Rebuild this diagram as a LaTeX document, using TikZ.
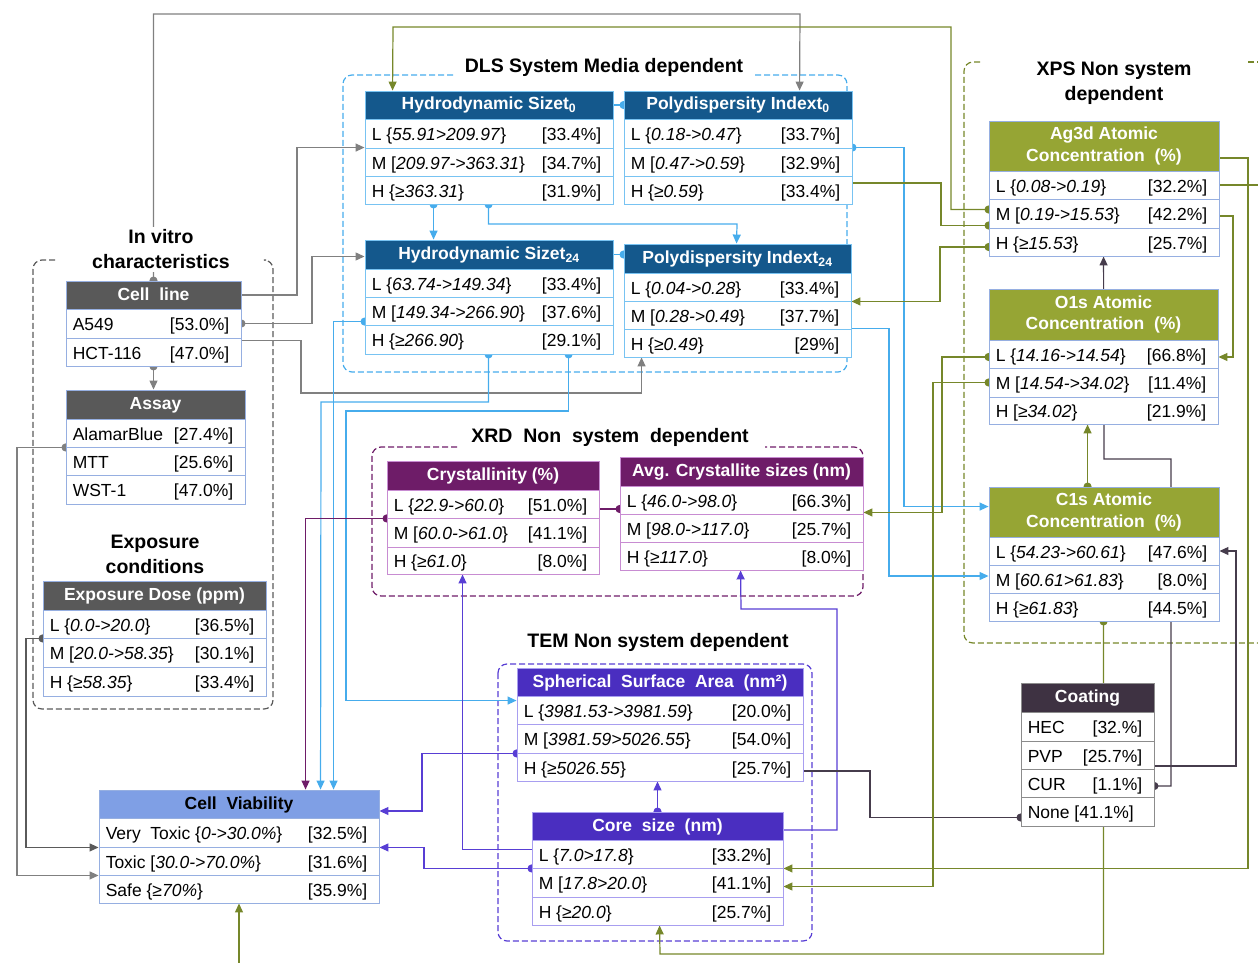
\documentclass[tikz,border=0pt]{standalone}
\usepackage{fontspec}
\setmainfont{Liberation Sans}
\usetikzlibrary{arrows.meta,fit}
\pgfdeclarelayer{bg}
\pgfdeclarelayer{conn}
\pgfsetlayers{bg,conn,main}
\definecolor{dlshead}{RGB}{20,88,140}
\definecolor{dlsline}{RGB}{70,172,236}
\definecolor{dlsborder}{RGB}{120,195,242}
\definecolor{grayhead}{RGB}{89,89,89}
\definecolor{grayline}{RGB}{128,128,128}
\definecolor{graydark}{RGB}{90,90,90}
\definecolor{rowborder}{RGB}{150,175,225}
\definecolor{olivehead}{RGB}{150,165,52}
\definecolor{oliveline}{RGB}{118,135,42}
\definecolor{xrdhead}{RGB}{110,28,104}
\definecolor{xrdborder}{RGB}{200,140,210}
\definecolor{temhead}{RGB}{74,46,192}
\definecolor{temline}{RGB}{88,62,212}
\definecolor{temborder}{RGB}{168,158,240}
\definecolor{coathead}{RGB}{62,50,66}
\definecolor{coatline}{RGB}{70,60,76}
\definecolor{coatborder}{RGB}{140,140,140}
\definecolor{cvhead}{RGB}{127,159,229}
\definecolor{frgray}{RGB}{90,90,90}
\tikzset{
  cellbox/.style={rectangle, inner sep=0pt, fill=white, line width=0.9pt},
  headbox/.style={rectangle, inner sep=0pt, line width=0.9pt},
  ctxt/.style={inner sep=0pt, font=\fontsize{17.5}{20}\selectfont},
  htxt/.style={inner sep=0pt, font=\bfseries\fontsize{17.5}{21.5}\selectfont, align=center},
  hone/.style={text height=13pt, text depth=3pt},
  ttl/.style={inner sep=3pt, font=\bfseries\fontsize{19.5}{25}\selectfont, align=center, fill=white},
  frame/.style={dash pattern=on 6pt off 3pt, line width=1.2pt, rounded corners=9pt},
  cline/.style={line width=1.2pt},
  gcon/.style={cline, draw=grayline},
  gdcon/.style={cline, draw=graydark},
  bcon/.style={cline, draw=dlsline},
  pcon/.style={cline, draw=xrdhead},
  tcon/.style={cline, draw=temline},
  ccon/.style={cline, draw=coatline},
  ocon/.style={cline, draw=oliveline},
  arr/.style={-{Triangle[length=9pt,width=8pt]}},
  dotarr/.style={{Circle[length=8pt]}-{Triangle[length=9pt,width=8pt]}, shorten <=-4pt},
  dotbeg/.style={{Circle[length=8pt]}-, shorten <=-4pt},
  dotend/.style={-{Circle[length=8pt]}, shorten >=-4pt},
}
\newcommand{\mkhead}[9]{%
  \node[headbox, fill=#7, draw=#8, fit={(#2,#3) (#4,#5)}] (#1) {};
  \node[htxt, #9] (#1-t) at (#1.center) {#6};
}
\newcommand{\mkrow}[8]{%
  \node[cellbox, draw=#8, fit={(#2,#3) (#4,#5)}] (#1) {};
  \node[ctxt, anchor=base west] (#1-a) at ([xshift=7pt,yshift=-7pt]#1.west) {#6};
  \node[ctxt, anchor=base east] (#1-b) at ([xshift=-12pt,yshift=-7pt]#1.east) {#7};
}
\begin{document}
\begin{tikzpicture}[x=1pt,y=-1pt]
\useasboundingbox (0,0) rectangle (1258,963);

% ---------- DLS ----------
\mkhead{hs0}{365}{91}{613}{119}{Hydrodynamic Sizet\textsubscript{0}}{dlshead}{dlsborder}{text=white,hone}
\mkrow{hs0l}{365}{119}{613}{148}{L \{\textit{55.91>209.97}\}}{[33.4\%]}{dlsborder}
\mkrow{hs0m}{365}{148}{613}{176}{M [\textit{209.97->363.31}\}}{[34.7\%]}{dlsborder}
\mkrow{hs0h}{365}{176}{613}{204}{H \{≥\textit{363.31}\}}{[31.9\%]}{dlsborder}

\mkhead{pdi0}{624}{91}{852}{119}{Polydispersity Indext\textsubscript{0}}{dlshead}{dlsborder}{text=white,hone}
\mkrow{pdi0l}{624}{119}{852}{148}{L \{\textit{0.18->0.47}\}}{[33.7\%]}{dlsborder}
\mkrow{pdi0m}{624}{148}{852}{176}{M [\textit{0.47->0.59}\}}{[32.9\%]}{dlsborder}
\mkrow{pdi0h}{624}{176}{852}{204}{H \{≥\textit{0.59}\}}{[33.4\%]}{dlsborder}

\mkhead{hs24}{365}{240}{613}{269}{Hydrodynamic Sizet\textsubscript{24}}{dlshead}{dlsborder}{text=white,hone}
\mkrow{hs24l}{365}{269}{613}{297}{L \{\textit{63.74->149.34}\}}{[33.4\%]}{dlsborder}
\mkrow{hs24m}{365}{297}{613}{325}{M [\textit{149.34->266.90}\}}{[37.6\%]}{dlsborder}
\mkrow{hs24h}{365}{325}{613}{354}{H \{≥\textit{266.90}\}}{[29.1\%]}{dlsborder}

\mkhead{pdi24}{624}{244}{851}{273}{Polydispersity Indext\textsubscript{24}}{dlshead}{dlsborder}{text=white,hone}
\mkrow{pdi24l}{624}{273}{851}{301}{L \{\textit{0.04->0.28}\}}{[33.4\%]}{dlsborder}
\mkrow{pdi24m}{624}{301}{851}{329}{M [\textit{0.28->0.49}\}}{[37.7\%]}{dlsborder}
\mkrow{pdi24h}{624}{329}{851}{357}{H \{≥\textit{0.49}\}}{[29\%]}{dlsborder}

% ---------- XPS ----------
\mkhead{ag3d}{989}{121}{1219}{171}{Ag3d Atomic\\Concentration~~(\%)}{olivehead}{rowborder}{text=white}
\mkrow{ag3dl}{989}{171}{1219}{199}{L \{\textit{0.08->0.19}\}}{[32.2\%]}{rowborder}
\mkrow{ag3dm}{989}{199}{1219}{228}{M [\textit{0.19->15.53}\}}{[42.2\%]}{rowborder}
\mkrow{ag3dh}{989}{228}{1219}{256}{H \{≥\textit{15.53}\}}{[25.7\%]}{rowborder}

\mkhead{o1s}{989}{289}{1218}{340}{O1s Atomic\\Concentration~~(\%)}{olivehead}{rowborder}{text=white}
\mkrow{o1sl}{989}{340}{1218}{368}{L \{\textit{14.16->14.54}\}}{[66.8\%]}{rowborder}
\mkrow{o1sm}{989}{368}{1218}{397}{M [\textit{14.54->34.02}\}}{[11.4\%]}{rowborder}
\mkrow{o1sh}{989}{397}{1218}{424}{H [≥\textit{34.02}\}}{[21.9\%]}{rowborder}

\mkhead{c1s}{989}{487}{1219}{537}{C1s Atomic\\Concentration~~(\%)}{olivehead}{rowborder}{text=white}
\mkrow{c1sl}{989}{537}{1219}{565}{L \{\textit{54.23->60.61}\}}{[47.6\%]}{rowborder}
\mkrow{c1sm}{989}{565}{1219}{593}{M [\textit{60.61>61.83}\}}{[8.0\%]}{rowborder}
\mkrow{c1sh}{989}{593}{1219}{621}{H \{≥\textit{61.83}\}}{[44.5\%]}{rowborder}

% ---------- In vitro ----------
\mkhead{cl}{66}{281}{241}{309}{Cell~~line}{grayhead}{rowborder}{text=white,hone}
\mkrow{cla}{66}{309}{241}{338}{A549}{[53.0\%]}{rowborder}
\mkrow{clh}{66}{338}{241}{366}{HCT-116}{[47.0\%]}{rowborder}

\mkhead{assay}{66}{390}{245}{419}{Assay}{grayhead}{rowborder}{text=white,hone}
\mkrow{asa}{66}{419}{245}{447}{AlamarBlue}{[27.4\%]}{rowborder}
\mkrow{asm}{66}{447}{245}{475}{MTT}{[25.6\%]}{rowborder}
\mkrow{asw}{66}{475}{245}{504}{WST-1}{[47.0\%]}{rowborder}

\mkhead{dose}{43}{581}{266}{610}{Exposure Dose (ppm)}{grayhead}{rowborder}{text=white,hone}
\mkrow{dosel}{43}{610}{266}{638}{L \{\textit{0.0->20.0}\}}{[36.5\%]}{rowborder}
\mkrow{dosem}{43}{638}{266}{667}{M [\textit{20.0->58.35}\}}{[30.1\%]}{rowborder}
\mkrow{doseh}{43}{667}{266}{696}{H \{≥\textit{58.35}\}}{[33.4\%]}{rowborder}

% ---------- Cell viability ----------
\mkhead{cv}{99}{790}{379}{818}{Cell~~Viability}{cvhead}{rowborder}{text=black,hone}
\mkrow{cvv}{99}{818}{379}{847}{Very~~Toxic \{\textit{0->30.0\%}\}}{[32.5\%]}{rowborder}
\mkrow{cvt}{99}{847}{379}{875}{Toxic [\textit{30.0->70.0\%}\}}{[31.6\%]}{rowborder}
\mkrow{cvs}{99}{875}{379}{903}{Safe \{≥\textit{70\%}\}}{[35.9\%]}{rowborder}

% ---------- XRD ----------
\mkhead{cry}{387}{461}{599}{490}{Crystallinity (\%)}{xrdhead}{xrdborder}{text=white,hone}
\mkrow{cryl}{387}{490}{599}{518}{L \{\textit{22.9->60.0}\}}{[51.0\%]}{xrdborder}
\mkrow{crym}{387}{518}{599}{547}{M [\textit{60.0->61.0}\}}{[41.1\%]}{xrdborder}
\mkrow{cryh}{387}{547}{599}{574}{H \{≥\textit{61.0}\}}{[8.0\%]}{xrdborder}

\mkhead{avg}{620}{457}{863}{486}{Avg. Crystallite sizes (nm)}{xrdhead}{xrdborder}{text=white,hone}
\mkrow{avgl}{620}{486}{863}{514}{L \{\textit{46.0->98.0}\}}{[66.3\%]}{xrdborder}
\mkrow{avgm}{620}{514}{863}{542}{M [\textit{98.0->117.0}\}}{[25.7\%]}{xrdborder}
\mkrow{avgh}{620}{542}{863}{570}{H \{≥\textit{117.0}\}}{[8.0\%]}{xrdborder}

% ---------- TEM ----------
\mkhead{ssa}{517}{668}{803}{696}{Spherical~~Surface~~Area~~(nm²)}{temhead}{temborder}{text=white,hone}
\mkrow{ssal}{517}{696}{803}{724}{L \{\textit{3981.53->3981.59}\}}{[20.0\%]}{temborder}
\mkrow{ssam}{517}{724}{803}{753}{M [\textit{3981.59>5026.55}\}}{[54.0\%]}{temborder}
\mkrow{ssah}{517}{753}{803}{781}{H \{≥\textit{5026.55}\}}{[25.7\%]}{temborder}

\mkhead{core}{532}{812}{783}{840}{Core~~size~~(nm)}{temhead}{temborder}{text=white,hone}
\mkrow{corel}{532}{840}{783}{868}{L \{\textit{7.0>17.8}\}}{[33.2\%]}{temborder}
\mkrow{corem}{532}{868}{783}{897}{M [\textit{17.8>20.0}\}}{[41.1\%]}{temborder}
\mkrow{coreh}{532}{897}{783}{925}{H \{≥\textit{20.0}\}}{[25.7\%]}{temborder}

% ---------- Coating ----------
\mkhead{coat}{1021}{683}{1154}{712}{Coating}{coathead}{coatborder}{text=white,hone}
\mkrow{cthec}{1021}{712}{1154}{741}{HEC}{[32.\%]}{coatborder}
\mkrow{ctpvp}{1021}{741}{1154}{769}{PVP}{[25.7\%]}{coatborder}
\mkrow{ctcur}{1021}{769}{1154}{797}{CUR}{[1.1\%]}{coatborder}
\mkrow{ctnone}{1021}{797}{1154}{826}{None [41.1\%]}{}{coatborder}

% ---------- titles ----------
\node[ttl] (tdls) at (604,67) {DLS System Media dependent};
\node[ttl] (tinv) at (161,249.5) {In vitro\\characteristics};
\node[ttl] (texp) at (155,554) {Exposure\\conditions};
\node[ttl] (txrd) at (610,437) {XRD~~Non~~system~~dependent};
\node[ttl] (ttem) at (658,642) {TEM Non system dependent};
\node[ttl] (txps) at (1114,83) {XPS Non system\\dependent};

% ---------- frames ----------
\begin{pgfonlayer}{bg}
\draw[frame,draw=frgray] (55,260) -| (33,709) -| (273,260) -- (266,260);
\draw[frame,draw=dlsline] (453,75) -| (343,372) -| (847,75) -- (753,75);
\draw[frame,draw=xrdhead] (457,447) -| (372,596) -| (863,447) -- (765,447);
\draw[frame,draw=temline] (498,664) rectangle (812,941);
\draw[frame,draw=oliveline] (980,62) -| (964,643) -- (1290,643);
\draw[frame,draw=oliveline] (1248,62) -- (1290,62);
\end{pgfonlayer}

% ---------- connectors ----------
\begin{pgfonlayer}{conn}
% gray
\draw[gcon,dotarr] (cl.north) |- (800,14) -- ([xshift=176pt]pdi0.north west);
\draw[gcon,arr] (cl.east) -| (297,200) |- (hs0m.north west);
\draw[gcon,dotarr] (cla.east) -| (312,280) |- ([yshift=-2pt]hs24.west);
\draw[gcon,arr] ([yshift=-3pt]clh.north east) -| (301,393) -| ([xshift=18pt]pdi24h.south west);
\draw[gcon,dotarr] (clh.south) -- (clh.south |- assay.north);
\draw[gcon,dotarr] (asa.south west) -| (17,700) |- (cvt.south west);
\draw[gdcon,dotarr] (dosel.south west) -| (26,750) |- (cvv.south west);
% blue
\draw[bcon,dotarr] ([xshift=69pt]hs0h.south west) -- ([xshift=69pt]hs24.north west);
\draw[bcon,dotarr] ([xshift=124pt]hs0h.south west) |- (737,224) -- ([xshift=113pt]pdi24.north west);
\draw[bcon,dotend] (hs0.east) -- (hs0.east -| pdi0.west);
\draw[bcon,dotend] (hs24.east) -- (hs24.east -| pdi24.west);
\draw[bcon,dotarr] (pdi0m.north east) -| (904,300) |- ([yshift=-20pt]c1s.north west);
\draw[bcon,arr] (pdi24h.north east) -| (889,450) |- ([yshift=3pt]c1sm.west);
\draw[bcon,dotarr] ([yshift=3pt]hs24h.north west) -| ([xshift=235pt]cv.north west);
\draw[bcon,dotarr] ([xshift=124pt]hs24h.south west) |- (321,402) -- ([xshift=222pt]cv.north west);
\draw[bcon,dotarr] ([xshift=204pt]hs24h.south west) |- (346,411) |- ([yshift=-5pt]ssal.north west);
% purple
\draw[pcon,dotarr] (cryl.south west) -| ([xshift=207pt]cv.north west);
\draw[pcon,dotend] ([yshift=-5pt]cryl.east) -- ([yshift=-5pt]cryl.east -| avgl.west);
% TEM
\draw[tcon,dotarr] (core.north) -- (core.north |- ssah.south);
\draw[tcon,dotarr] (ssam.south west) -| (422,780) |- ([yshift=-7pt]cv.east);
\draw[tcon,dotarr] (corel.south west) -| (424,860) |- (cvv.south east);
\draw[tcon,arr] ([yshift=-10pt]corel.north west) -| ([xshift=76pt]cryh.south west);
\draw[tcon,dotarr] ([xshift=-8pt,yshift=-4pt]core.east) -| (837,700) |- (741,609) -- ([xshift=121pt]avgh.south west);
% coating
\draw[ccon,dotend] ([yshift=-4pt]ssah.east) -| (870,800) |- ([yshift=-6pt]ctnone.west);
\draw[ccon,arr] ([yshift=-11pt]ctpvp.east) -| (1236,700) |- (c1sl.east);
\draw[ccon,dotarr] ([yshift=-3pt]ctcur.east) -| (1171,600) |- (1104,459) -- ([xshift=115pt]ag3dh.south west);
% olive
\draw[ocon,dotarr] ([yshift=4pt]ag3dm.west) -| (951,100) |- (393,27) -- ([xshift=28pt]hs0.north west);
\draw[ocon,dotbeg] ([yshift=-12pt]ag3dm.west) -| (941,200) |- ([yshift=7pt]pdi0h.east);
\draw[ocon,dotarr] ([yshift=-5pt]ag3dh.west) -| (940,280) |- (pdi24l.south east);
\draw[ocon,dotarr] ([yshift=-3pt]o1sl.west) -| (942,450) |- ([yshift=2pt]avgl.south east);
\draw[ocon,dotarr] (o1sm.west) -| (933,600) |- ([yshift=-4pt]corem.east);
\draw[ocon,arr] ([yshift=-12pt]ag3d.east) -| (1248,500) |- (corel.south east);
\coordinate (offr) at (1275,185);
\draw[ocon] (ag3dl.east) -- (ag3dl.east -| offr);
\draw[ocon,arr] ([yshift=-2.5pt]ag3dm.east) -| (1233,300) |- ([yshift=-3pt]o1sl.east);
\draw[ocon,dotarr] ([xshift=99pt]c1s.north west) -- ([xshift=99pt]o1sh.south west);
\draw[ocon,dotarr] ([xshift=115pt]c1sh.south west) |- (660,954) -- ([xshift=128pt]coreh.south west);
\coordinate (cvin) at (239,975);
\draw[ocon,arr] (cvin) -- (cvin |- cvs.south);
\end{pgfonlayer}
\end{tikzpicture}
\end{document}
